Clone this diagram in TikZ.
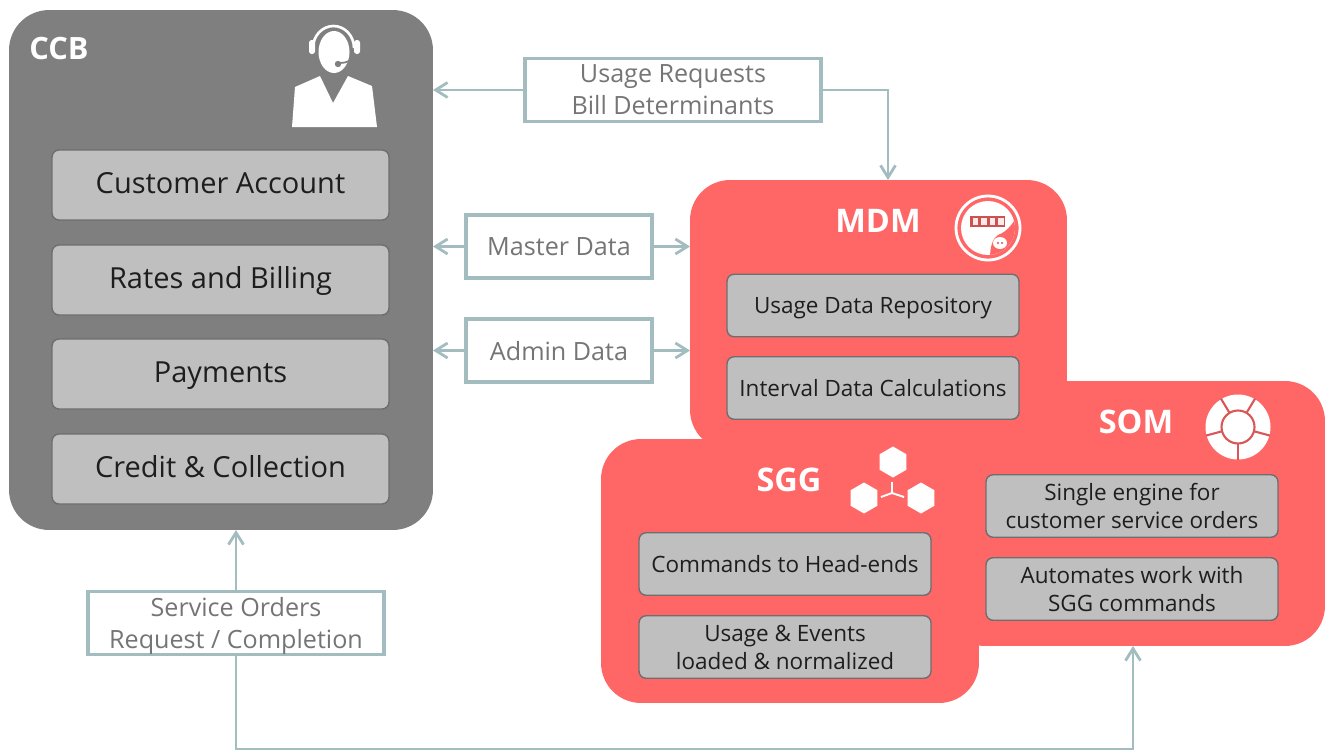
\documentclass[tikz,border=0pt]{standalone}
\usepackage{fontspec}
\setmainfont{Open Sans}
\usetikzlibrary{arrows.meta}
\definecolor{ccbgrey}{HTML}{7F7F7F}
\definecolor{boxgrey}{HTML}{BFBFBF}
\definecolor{edgegrey}{HTML}{6E6E6E}
\definecolor{meterred}{HTML}{FF6666}
\definecolor{flowblue}{HTML}{A3BCBF}
\definecolor{labelgrey}{HTML}{757575}
\definecolor{inktext}{HTML}{1E1E1E}
\tikzset{
  panel/.style={inner sep=0pt,outer sep=0pt,rounded corners=0.8cm},
  ccbitem/.style={draw=edgegrey,fill=boxgrey,line width=0.8pt,rounded corners=0.14cm,
    minimum width=6.74cm,minimum height=1.4cm,text height=13pt,text depth=3.5pt,
    font=\fontsize{16.5}{19}\selectfont,text=inktext},
  subitem/.style={draw=edgegrey,fill=boxgrey,line width=0.8pt,rounded corners=0.14cm,
    minimum width=5.84cm,minimum height=1.25cm,align=center,
    font=\fontsize{12.8}{15.9}\selectfont,text=inktext},
  oneline/.style={text height=12pt,text depth=2.8pt},
  flowlabel/.style={draw=flowblue,line width=1.8pt,fill=white,minimum height=1.26cm,inner ysep=0pt,
    align=center,text=labelgrey,text depth=0pt,font=\fontsize{14.3}{18.2}\selectfont},
  paneltitle/.style={text=white,font=\bfseries\fontsize{18.5}{22}\selectfont},
  flow/.style={draw=flowblue,line width=1.6pt,-{Straight Barb[length=2.4mm,width=3mm]}},
}
\begin{document}
\begin{tikzpicture}[x=0.02cm,y=-0.02cm]
\useasboundingbox (0,0) rectangle (1325,751);

% Panels
\node[panel,fill=ccbgrey,minimum width=8.48cm,minimum height=10.4cm] (ccb) at (221,270) {};
\node[panel,fill=meterred,minimum width=7.54cm,minimum height=5.4cm] (mdm) at (878.5,315) {};
\node[panel,fill=meterred,minimum width=7.6cm,minimum height=5.3cm] (som) at (1135,513.5) {};
\node[panel,fill=meterred,minimum width=7.56cm,minimum height=5.28cm] (sgg) at (790,571) {};

% Titles
\node[paneltitle,font=\bfseries\fontsize{17.5}{20}\selectfont] (ccbtitle) at (59,49) {CCB};
\node[paneltitle] (mdmtitle) at (878,221) {MDM};
\node[paneltitle] (somtitle) at (1136,422) {SOM};
\node[paneltitle] (sggtitle) at (789,480) {SGG};

% CCB items
\node[ccbitem] (account) at (220.5,185) {Customer Account};
\node[ccbitem] (rates) at (220.5,280) {Rates and Billing};
\node[ccbitem] (payments) at (220.5,374) {Payments};
\node[ccbitem] (credit) at (220.5,469) {Credit \& Collection};

% MDM, SOM and SGG items
\node[subitem,oneline] (repository) at (873,305.5) {Usage Data Repository};
\node[subitem,oneline] (interval) at (873,388) {Interval Data Calculations};
\node[subitem] (engine) at (1132,506) {Single engine for\\customer service orders};
\node[subitem] (automates) at (1132,589) {Automates work with\\SGG commands};
\node[subitem,oneline] (commands) at (785,564) {Commands to Head-ends};
\node[subitem] (events) at (785,647) {Usage \& Events\\loaded \& normalized};

% Flow labels
\node[flowlabel,minimum width=5.92cm] (usage) at (673,90) {Usage Requests\\Bill Determinants};
\node[flowlabel,minimum width=3.72cm] (master) at (559,246.5) {Master Data};
\node[flowlabel,minimum width=3.72cm] (admin) at (559,350.5) {Admin Data};
\node[flowlabel,minimum width=5.92cm] (service) at (236,623) {Service Orders\\Request / Completion};

% Connectors
\coordinate (mdmtop) at (888,180);
\coordinate (busbend) at (1133,749);
\draw[flow] (usage.west) -- (usage.west -| ccb.east);
\draw[flow] (usage.east) -| (mdmtop);
\draw[flow] (master.west) -- (master.west -| ccb.east);
\draw[flow] (master.east) -- (master.east -| mdm.west);
\draw[flow] (admin.west) -- (admin.west -| ccb.east);
\draw[flow] (admin.east) -- (admin.east -| mdm.west);
\draw[flow] (service.north) -- (service.north |- ccb.south);
\draw[flow] (service.south) |- (busbend) -- (busbend |- som.south);

% Agent icon
\fill[white] (292,127) -- (295,87) -- (320,76) -- (333,103) -- (348,76) -- (372,86) -- (377,127) -- cycle;
\fill[white] (334,52) ellipse (15.5 and 21);
\draw[white,line width=1.5pt] (313,48) arc[start angle=180,end angle=360,x radius=20.5,y radius=22];
\fill[white,rounded corners=1.5pt] (309,40) rectangle (315,54);
\fill[white,rounded corners=1.5pt] (354,40) rectangle (360,54);
\draw[ccbgrey,line width=1pt] (356,54) to[bend left=30] (340,63);
\fill[ccbgrey] (338,64) circle (3.2);

% Meter icon
\draw[white,line width=1.6pt] (988,228) circle (32);
\fill[white] (988,228) circle (27);
\begin{scope}
  \clip (988,228) circle (27);
  \fill[meterred] (1016,218) .. controls (1011,226) and (1006,232) .. (998,235)
    .. controls (993,238) and (990,246) .. (990,258) -- (1018,258) -- cycle;
\end{scope}
\fill[white] (1000,243) ellipse (7 and 6);
\fill[meterred!80!black] (998,243) circle (1.1) (1002,243) circle (1.1);
\fill[meterred!80!black] (970,216) rectangle (1005,227);
\foreach \cellx in {972.5,981,989.5,998}
  \fill[white!85!meterred] (\cellx,218) rectangle ++(5.5,7);

% Ring icon
\fill[white] (1238,427) circle (32.5);
\draw[meterred!85!black,line width=1.2pt] (1238,427) circle (16.5);
\foreach \crackangle in {59,121,-15,195,270}
  \draw[meterred!85!black,line width=1.2pt] (1238,427) ++(\crackangle:17 and -17)
    -- ++(\crackangle:16 and -16);

% Hexagon icon
\foreach \hexname/\hexx/\hexy in {hextop/893/462,hexleft/864/498,hexright/921/498}
  \fill[white] (\hexx,\hexy) +(90:15.5) -- +(30:15.5) -- +(-30:15.5)
    -- +(-90:15.5) -- +(-150:15.5) -- +(150:15.5) -- cycle;
\draw[white,line width=1.1pt] (892,493) -- (892,482) (892,493) -- (881,497) (892,493) -- (904,497);
\end{tikzpicture}
\end{document}
